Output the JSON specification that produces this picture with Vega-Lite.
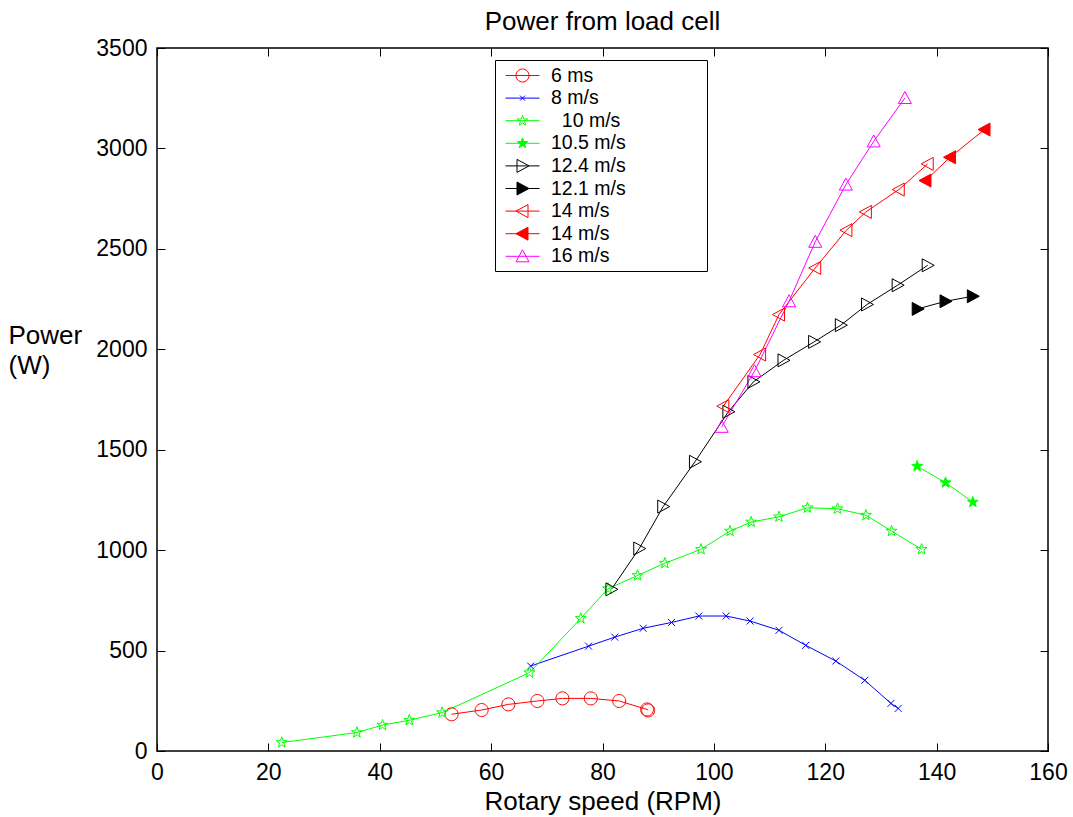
{
  "$schema": "https://vega.github.io/schema/vega-lite/v6.json",
  "width": 891,
  "height": 703,
  "autosize": {"type": "none"},
  "padding": {"left": 157, "top": 48, "right": 25, "bottom": 66},
  "background": "white",
  "config": {
    "view": {"stroke": "black", "strokeWidth": 1.5},
    "font": "Liberation Sans",
    "axis": {"grid": false, "domain": false, "tickColor": "black", "tickWidth": 1, "labelColor": "black", "titleColor": "black", "labelFont": "Liberation Sans", "titleFont": "Liberation Sans", "titleFontWeight": "normal", "labelFlush": false, "format": "d"},
    "legend": {
      "orient": "none", "legendX": 338, "legendY": 12, "padding": 5,
      "strokeColor": "black", "fillColor": "white",
      "symbolSize": 400, "symbolStrokeWidth": 1, "symbolOpacity": 1, "symbolOffset": 12, "labelOffset": 18,
      "labelFontSize": 19.5, "labelFont": "Liberation Sans", "labelColor": "black", "rowPadding": 2.6, "labelLimit": 400
    }
  },
  "title": {"text": "Power from load cell", "fontSize": 26, "fontWeight": "normal", "font": "Liberation Sans", "color": "black", "anchor": "middle", "frame": "group", "baseline": "alphabetic", "offset": -19},
  "data": {"values": [
    {"s": "6 ms", "x": 52.9, "y": 183}, {"s": "6 ms", "x": 58.3, "y": 204}, {"s": "6 ms", "x": 63.1, "y": 232}, {"s": "6 ms", "x": 68.3, "y": 249}, {"s": "6 ms", "x": 72.8, "y": 262}, {"s": "6 ms", "x": 77.9, "y": 262}, {"s": "6 ms", "x": 83.0, "y": 249}, {"s": "6 ms", "x": 88.0, "y": 207}, {"s": "6 ms", "x": 88.2, "y": 202},
    {"s": "8 m/s", "x": 67.1, "y": 423}, {"s": "8 m/s", "x": 77.5, "y": 522}, {"s": "8 m/s", "x": 82.2, "y": 567}, {"s": "8 m/s", "x": 87.3, "y": 611}, {"s": "8 m/s", "x": 92.4, "y": 640}, {"s": "8 m/s", "x": 97.3, "y": 672}, {"s": "8 m/s", "x": 102.2, "y": 672}, {"s": "8 m/s", "x": 106.5, "y": 647}, {"s": "8 m/s", "x": 111.7, "y": 601}, {"s": "8 m/s", "x": 116.5, "y": 526}, {"s": "8 m/s", "x": 121.9, "y": 448}, {"s": "8 m/s", "x": 127.1, "y": 352}, {"s": "8 m/s", "x": 131.8, "y": 237}, {"s": "8 m/s", "x": 133.1, "y": 212},
    {"s": "10 m/s", "x": 22.4, "y": 42}, {"s": "10 m/s", "x": 35.9, "y": 92}, {"s": "10 m/s", "x": 40.5, "y": 129}, {"s": "10 m/s", "x": 45.3, "y": 153}, {"s": "10 m/s", "x": 51.2, "y": 191}, {"s": "10 m/s", "x": 66.9, "y": 390}, {"s": "10 m/s", "x": 76.1, "y": 660}, {"s": "10 m/s", "x": 81.0, "y": 808}, {"s": "10 m/s", "x": 86.3, "y": 874}, {"s": "10 m/s", "x": 91.2, "y": 935}, {"s": "10 m/s", "x": 97.7, "y": 1004}, {"s": "10 m/s", "x": 102.9, "y": 1095}, {"s": "10 m/s", "x": 106.7, "y": 1140}, {"s": "10 m/s", "x": 111.7, "y": 1166}, {"s": "10 m/s", "x": 116.8, "y": 1211}, {"s": "10 m/s", "x": 122.2, "y": 1206}, {"s": "10 m/s", "x": 127.3, "y": 1174}, {"s": "10 m/s", "x": 131.9, "y": 1095}, {"s": "10 m/s", "x": 137.3, "y": 1004},
    {"s": "10.5 m/s", "x": 136.5, "y": 1418}, {"s": "10.5 m/s", "x": 141.6, "y": 1336}, {"s": "10.5 m/s", "x": 146.5, "y": 1239},
    {"s": "12.4 m/s", "x": 81.6, "y": 805}, {"s": "12.4 m/s", "x": 86.6, "y": 1008}, {"s": "12.4 m/s", "x": 90.9, "y": 1217}, {"s": "12.4 m/s", "x": 96.6, "y": 1440}, {"s": "12.4 m/s", "x": 102.6, "y": 1689}, {"s": "12.4 m/s", "x": 107.1, "y": 1838}, {"s": "12.4 m/s", "x": 112.5, "y": 1945}, {"s": "12.4 m/s", "x": 118.0, "y": 2037}, {"s": "12.4 m/s", "x": 122.8, "y": 2120}, {"s": "12.4 m/s", "x": 127.5, "y": 2223}, {"s": "12.4 m/s", "x": 133.0, "y": 2319}, {"s": "12.4 m/s", "x": 138.4, "y": 2418},
    {"s": "12.1 m/s", "x": 136.6, "y": 2201}, {"s": "12.1 m/s", "x": 141.6, "y": 2239}, {"s": "12.1 m/s", "x": 146.5, "y": 2264},
    {"s": "14 m/s", "x": 101.7, "y": 1717}, {"s": "14 m/s", "x": 108.3, "y": 1974}, {"s": "14 m/s", "x": 111.7, "y": 2173}, {"s": "14 m/s", "x": 118.2, "y": 2405}, {"s": "14 m/s", "x": 123.8, "y": 2593}, {"s": "14 m/s", "x": 127.3, "y": 2684}, {"s": "14 m/s", "x": 133.2, "y": 2795}, {"s": "14 m/s", "x": 138.4, "y": 2923},
    {"s": "14 m/s ", "x": 138.0, "y": 2840}, {"s": "14 m/s ", "x": 142.4, "y": 2956}, {"s": "14 m/s ", "x": 148.6, "y": 3094},
    {"s": "16 m/s", "x": 101.4, "y": 1614}, {"s": "16 m/s", "x": 107.3, "y": 1891}, {"s": "16 m/s", "x": 113.5, "y": 2239}, {"s": "16 m/s", "x": 118.2, "y": 2535}, {"s": "16 m/s", "x": 123.7, "y": 2820}, {"s": "16 m/s", "x": 128.7, "y": 3035}, {"s": "16 m/s", "x": 134.3, "y": 3251}
  ]},
  "resolve": {"axis": {"x": "independent", "y": "independent"}, "scale": {"stroke": "independent", "fill": "independent", "shape": "independent"}},
  "layer": [
    {
      "mark": {"type": "line", "strokeWidth": 1},
      "encoding": {
        "x": {"field": "x", "type": "quantitative", "scale": {"domain": [0, 160], "nice": false},
              "axis": {"orient": "bottom", "values": [0, 20, 40, 60, 80, 100, 120, 140, 160], "tickSize": -8, "labelPadding": 18, "labelFontSize": 23, "title": "Rotary speed (RPM)", "titleFontSize": 26, "titleBaseline": "alphabetic", "titleY": 58}},
        "y": {"field": "y", "type": "quantitative", "scale": {"domain": [0, 3500], "nice": false},
              "axis": {"orient": "left", "values": [0, 500, 1000, 1500, 2000, 2500, 3000, 3500], "tickSize": -8, "labelPadding": 18, "labelFontSize": 23, "title": ["Power", "(W)"], "titleFontSize": 26, "titleAngle": 0, "titleAlign": "left", "titleBaseline": "alphabetic", "titleX": -149, "titleY": 295, "titleLineHeight": 30}},
        "color": {"field": "s", "type": "nominal", "legend": null,
                  "scale": {"domain": ["6 ms", "8 m/s", "10 m/s", "10.5 m/s", "12.4 m/s", "12.1 m/s", "14 m/s", "14 m/s ", "16 m/s"],
                            "range": ["#ff0000", "#0000ff", "#00ff00", "#00ff00", "#000000", "#000000", "#ff0000", "#ff0000", "#ff00ff"]}}
      }
    },
    {
      "mark": {"type": "point", "size": 100, "strokeWidth": 1, "opacity": 1, "fillOpacity": 1, "strokeOpacity": 1},
      "encoding": {
        "x": {"field": "x", "type": "quantitative", "axis": {"orient": "top", "values": [0, 20, 40, 60, 80, 100, 120, 140, 160], "tickSize": -8, "labels": false, "title": null}},
        "y": {"field": "y", "type": "quantitative", "axis": {"orient": "right", "values": [0, 500, 1000, 1500, 2000, 2500, 3000, 3500], "tickSize": -8, "labels": false, "title": null}},
        "stroke": {"field": "s", "type": "nominal", "legend": null,
                   "scale": {"domain": ["6 ms", "8 m/s", "10 m/s", "10.5 m/s", "12.4 m/s", "12.1 m/s", "14 m/s", "14 m/s ", "16 m/s"],
                             "range": ["#ff0000", "#0000ff", "#00ff00", "#00ff00", "#000000", "#000000", "#ff0000", "#ff0000", "#ff00ff"]}},
        "fill": {"field": "s", "type": "nominal", "legend": null,
                 "scale": {"domain": ["6 ms", "8 m/s", "10 m/s", "10.5 m/s", "12.4 m/s", "12.1 m/s", "14 m/s", "14 m/s ", "16 m/s"],
                           "range": ["transparent", "transparent", "transparent", "#00ff00", "transparent", "#000000", "transparent", "#ff0000", "transparent"]}},
        "shape": {"field": "s", "type": "nominal", "legend": null,
                  "scale": {"domain": ["6 ms", "8 m/s", "10 m/s", "10.5 m/s", "12.4 m/s", "12.1 m/s", "14 m/s", "14 m/s ", "16 m/s"],
                            "range": [
                              "M1.3,0A1.3,1.3,0,1,1,-1.3,0A1.3,1.3,0,1,1,1.3,0Z",
                              "M-0.7,-0.7L0.7,0.7M-0.7,0.7L0.7,-0.7",
                              "M0,-1.15L0.27,-0.372L1.094,-0.355L0.437,0.142L0.676,0.93L0,0.46L-0.676,0.93L-0.437,0.142L-1.094,-0.355L-0.27,-0.372Z",
                              "M0,-1.15L0.27,-0.372L1.094,-0.355L0.437,0.142L0.676,0.93L0,0.46L-0.676,0.93L-0.437,0.142L-1.094,-0.355L-0.27,-0.372Z",
                              "M-1.1,-1.3L1.3,0L-1.1,1.3Z",
                              "M-1.1,-1.3L1.3,0L-1.1,1.3Z",
                              "M1.1,-1.3L-1.3,0L1.1,1.3Z",
                              "M1.1,-1.3L-1.3,0L1.1,1.3Z",
                              "M0,-1.3L1.3,1.1L-1.3,1.1Z"
                            ]}}
      }
    },
    {
      "mark": {"type": "point", "opacity": 0, "strokeWidth": 1},
      "encoding": {
        "x": {"field": "x", "type": "quantitative", "axis": null},
        "y": {"field": "y", "type": "quantitative", "axis": null},
        "stroke": {"field": "s", "type": "nominal", "title": null,
                   "scale": {"domain": ["6 ms", "8 m/s", "10 m/s", "10.5 m/s", "12.4 m/s", "12.1 m/s", "14 m/s", "14 m/s ", "16 m/s"],
                             "range": ["#ff0000", "#0000ff", "#00ff00", "#00ff00", "#000000", "#000000", "#ff0000", "#ff0000", "#ff00ff"]},
                   "legend": {"labelExpr": "(trim(datum.label) == '10 m/s' ? '\u200b\u00a0\u00a0' : '') + trim(datum.label) + '\u00a0\u00a0\u00a0\u00a0\u00a0\u00a0\u00a0\u00a0\u00a0\u00a0\u00a0\u00a0\u00a0\u00a0\u200b'"}},
        "fill": {"field": "s", "type": "nominal", "title": null,
                 "scale": {"domain": ["6 ms", "8 m/s", "10 m/s", "10.5 m/s", "12.4 m/s", "12.1 m/s", "14 m/s", "14 m/s ", "16 m/s"],
                           "range": ["transparent", "transparent", "transparent", "#00ff00", "transparent", "#000000", "transparent", "#ff0000", "transparent"]},
                 "legend": {"labelExpr": "(trim(datum.label) == '10 m/s' ? '\u200b\u00a0\u00a0' : '') + trim(datum.label) + '\u00a0\u00a0\u00a0\u00a0\u00a0\u00a0\u00a0\u00a0\u00a0\u00a0\u00a0\u00a0\u00a0\u00a0\u200b'"}},
        "shape": {"field": "s", "type": "nominal", "title": null,
                  "scale": {"domain": ["6 ms", "8 m/s", "10 m/s", "10.5 m/s", "12.4 m/s", "12.1 m/s", "14 m/s", "14 m/s ", "16 m/s"],
                            "range": [
                              "M-1.7,0L1.7,0M0.65,0A0.65,0.65,0,1,1,-0.65,0A0.65,0.65,0,1,1,0.65,0",
                              "M-1.7,0L1.7,0M-0.25,-0.25L0.25,0.25M-0.25,0.25L0.25,-0.25",
                              "M-1.7,0L1.7,0M0,-0.55L0.129,-0.178L0.523,-0.17L0.209,0.068L0.323,0.445L0,0.22L-0.323,0.445L-0.209,0.068L-0.523,-0.17L-0.129,-0.178Z",
                              "M-1.7,0L1.7,0M0,-0.55L0.129,-0.178L0.523,-0.17L0.209,0.068L0.323,0.445L0,0.22L-0.323,0.445L-0.209,0.068L-0.523,-0.17L-0.129,-0.178Z",
                              "M-1.7,0L1.7,0M-0.55,-0.65L0.65,0L-0.55,0.65Z",
                              "M-1.7,0L1.7,0M-0.55,-0.65L0.65,0L-0.55,0.65Z",
                              "M-1.7,0L1.7,0M0.55,-0.65L-0.65,0L0.55,0.65Z",
                              "M-1.7,0L1.7,0M0.55,-0.65L-0.65,0L0.55,0.65Z",
                              "M-1.7,0L1.7,0M0,-0.65L0.65,0.55L-0.65,0.55Z"
                            ]},
                  "legend": {"labelExpr": "(trim(datum.label) == '10 m/s' ? '\u200b\u00a0\u00a0' : '') + trim(datum.label) + '\u00a0\u00a0\u00a0\u00a0\u00a0\u00a0\u00a0\u00a0\u00a0\u00a0\u00a0\u00a0\u00a0\u00a0\u200b'"}}
      }
    }
  ]
}
